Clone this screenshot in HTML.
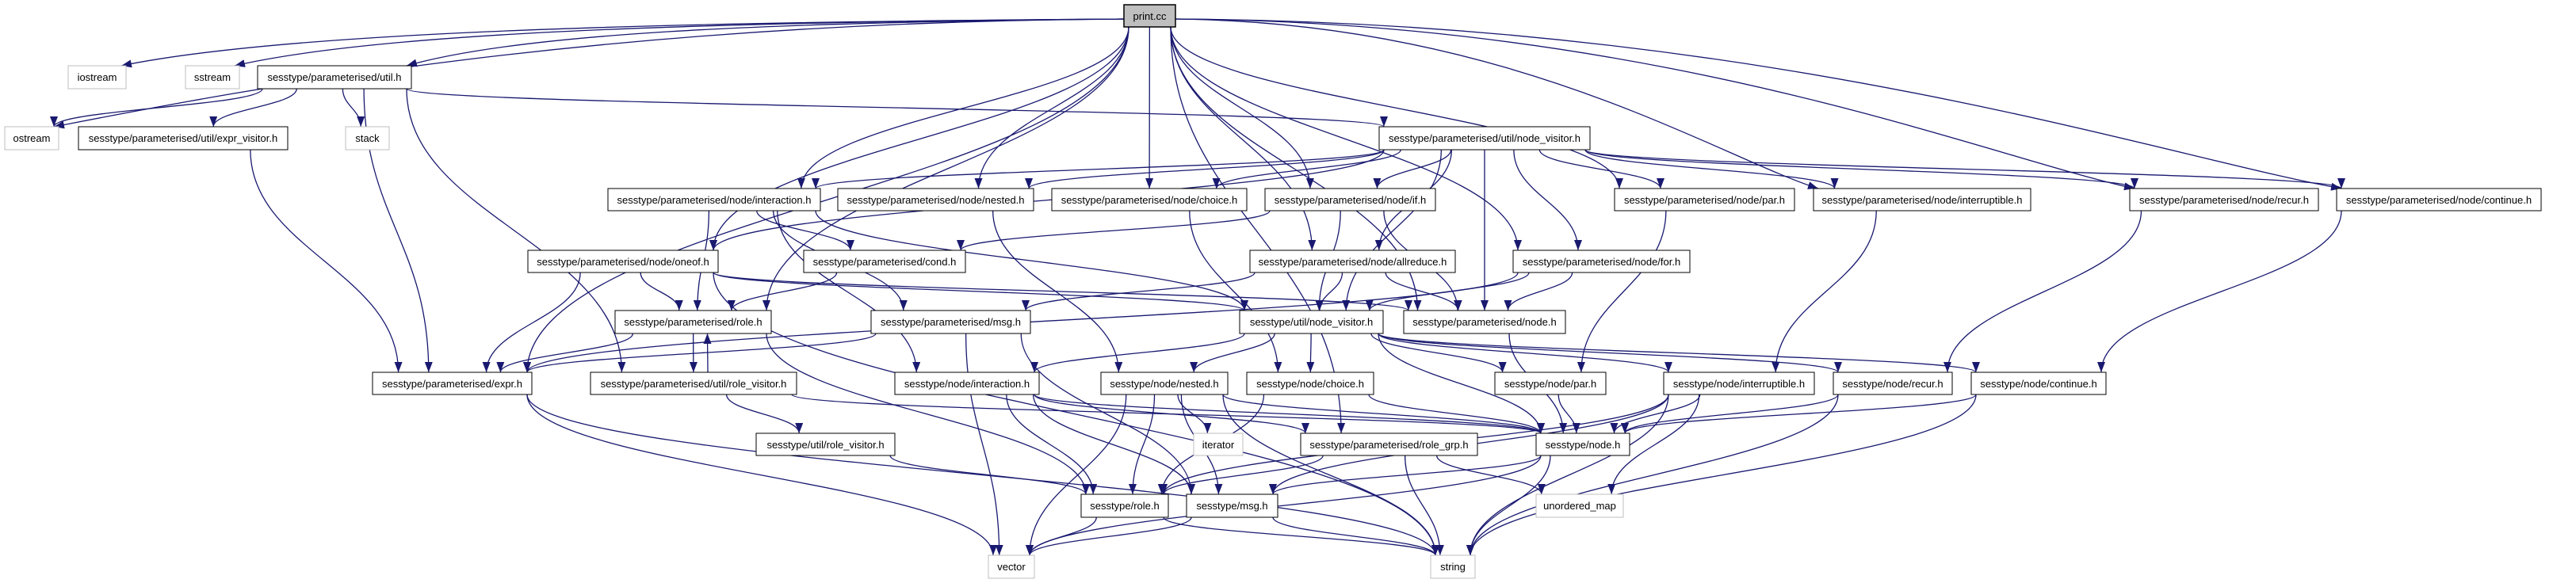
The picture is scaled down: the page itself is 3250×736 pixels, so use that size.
<!DOCTYPE html>
<html><head><meta charset="utf-8">
<style>
html,body{margin:0;padding:0;background:#fff;width:3250px;height:736px;overflow:hidden}
svg{display:block}
text{font-family:"Liberation Sans",Arial,sans-serif;font-size:13px;fill:#000}
</style></head><body>
<svg id="g" width="3250" height="736" viewBox="0 0 3250 736" xmlns="http://www.w3.org/2000/svg">
<defs><marker id="a" markerUnits="userSpaceOnUse" markerWidth="14" markerHeight="10" refX="13" refY="5" orient="auto"><path d="M0,0 L13,5 L0,10 z" fill="#191970"/></marker></defs>
<g id="edges" fill="none" stroke="#191970" stroke-width="1.3"></g>
<g id="nodes">
<rect x="1418" y="6" width="65" height="28" fill="#bfbfbf" stroke="#000" stroke-width="1.5"/><text x="1450.5" y="25" text-anchor="middle">print.cc</text>
<rect x="86" y="83" width="73" height="29" fill="#fff" stroke="#bfbfbf"/><text x="122.5" y="102" text-anchor="middle">iostream</text>
<rect x="234" y="83" width="68" height="29" fill="#fff" stroke="#bfbfbf"/><text x="268" y="102" text-anchor="middle">sstream</text>
<rect x="325" y="83" width="194" height="29" fill="#fff" stroke="#000"/><text x="422" y="102" text-anchor="middle">sesstype/parameterised/util.h</text>
<rect x="6" y="160" width="68" height="29" fill="#fff" stroke="#bfbfbf"/><text x="40" y="179" text-anchor="middle">ostream</text>
<rect x="99" y="160" width="264" height="29" fill="#fff" stroke="#000"/><text x="231" y="179" text-anchor="middle">sesstype/parameterised/util/expr_visitor.h</text>
<rect x="436" y="160" width="55" height="29" fill="#fff" stroke="#bfbfbf"/><text x="463.5" y="179" text-anchor="middle">stack</text>
<rect x="1740" y="160" width="266" height="29" fill="#fff" stroke="#000"/><text x="1873" y="179" text-anchor="middle">sesstype/parameterised/util/node_visitor.h</text>
<rect x="767" y="238" width="268" height="28" fill="#fff" stroke="#000"/><text x="901" y="257" text-anchor="middle">sesstype/parameterised/node/interaction.h</text>
<rect x="1057" y="238" width="247" height="28" fill="#fff" stroke="#000"/><text x="1180.5" y="257" text-anchor="middle">sesstype/parameterised/node/nested.h</text>
<rect x="1327" y="238" width="246" height="28" fill="#fff" stroke="#000"/><text x="1450" y="257" text-anchor="middle">sesstype/parameterised/node/choice.h</text>
<rect x="1596" y="238" width="215" height="28" fill="#fff" stroke="#000"/><text x="1703.5" y="257" text-anchor="middle">sesstype/parameterised/node/if.h</text>
<rect x="2037" y="238" width="227" height="28" fill="#fff" stroke="#000"/><text x="2150.5" y="257" text-anchor="middle">sesstype/parameterised/node/par.h</text>
<rect x="2288" y="238" width="274" height="28" fill="#fff" stroke="#000"/><text x="2425" y="257" text-anchor="middle">sesstype/parameterised/node/interruptible.h</text>
<rect x="2687" y="238" width="238" height="28" fill="#fff" stroke="#000"/><text x="2806" y="257" text-anchor="middle">sesstype/parameterised/node/recur.h</text>
<rect x="2948" y="238" width="258" height="28" fill="#fff" stroke="#000"/><text x="3077" y="257" text-anchor="middle">sesstype/parameterised/node/continue.h</text>
<rect x="666" y="316" width="240" height="28" fill="#fff" stroke="#000"/><text x="786" y="335" text-anchor="middle">sesstype/parameterised/node/oneof.h</text>
<rect x="1014" y="316" width="204" height="28" fill="#fff" stroke="#000"/><text x="1116" y="335" text-anchor="middle">sesstype/parameterised/cond.h</text>
<rect x="1577" y="316" width="259" height="28" fill="#fff" stroke="#000"/><text x="1706.5" y="335" text-anchor="middle">sesstype/parameterised/node/allreduce.h</text>
<rect x="1909" y="316" width="223" height="28" fill="#fff" stroke="#000"/><text x="2020.5" y="335" text-anchor="middle">sesstype/parameterised/node/for.h</text>
<rect x="776" y="392" width="197" height="29" fill="#fff" stroke="#000"/><text x="874.5" y="411" text-anchor="middle">sesstype/parameterised/role.h</text>
<rect x="1099" y="392" width="201" height="29" fill="#fff" stroke="#000"/><text x="1199.5" y="411" text-anchor="middle">sesstype/parameterised/msg.h</text>
<rect x="1564" y="392" width="181" height="29" fill="#fff" stroke="#000"/><text x="1654.5" y="411" text-anchor="middle">sesstype/util/node_visitor.h</text>
<rect x="1771" y="392" width="204" height="29" fill="#fff" stroke="#000"/><text x="1873" y="411" text-anchor="middle">sesstype/parameterised/node.h</text>
<rect x="470" y="470" width="201" height="28" fill="#fff" stroke="#000"/><text x="570.5" y="489" text-anchor="middle">sesstype/parameterised/expr.h</text>
<rect x="745" y="470" width="260" height="28" fill="#fff" stroke="#000"/><text x="875" y="489" text-anchor="middle">sesstype/parameterised/util/role_visitor.h</text>
<rect x="1129" y="470" width="182" height="28" fill="#fff" stroke="#000"/><text x="1220" y="489" text-anchor="middle">sesstype/node/interaction.h</text>
<rect x="1389" y="470" width="160" height="28" fill="#fff" stroke="#000"/><text x="1469" y="489" text-anchor="middle">sesstype/node/nested.h</text>
<rect x="1573" y="470" width="160" height="28" fill="#fff" stroke="#000"/><text x="1653" y="489" text-anchor="middle">sesstype/node/choice.h</text>
<rect x="1886" y="470" width="140" height="28" fill="#fff" stroke="#000"/><text x="1956" y="489" text-anchor="middle">sesstype/node/par.h</text>
<rect x="2099" y="470" width="190" height="28" fill="#fff" stroke="#000"/><text x="2194" y="489" text-anchor="middle">sesstype/node/interruptible.h</text>
<rect x="2313" y="470" width="150" height="28" fill="#fff" stroke="#000"/><text x="2388" y="489" text-anchor="middle">sesstype/node/recur.h</text>
<rect x="2487" y="470" width="170" height="28" fill="#fff" stroke="#000"/><text x="2572" y="489" text-anchor="middle">sesstype/node/continue.h</text>
<rect x="954" y="547" width="175" height="28" fill="#fff" stroke="#000"/><text x="1041.5" y="566" text-anchor="middle">sesstype/util/role_visitor.h</text>
<rect x="1506" y="547" width="62" height="28" fill="#fff" stroke="#bfbfbf"/><text x="1537" y="566" text-anchor="middle">iterator</text>
<rect x="1641" y="547" width="223" height="28" fill="#fff" stroke="#000"/><text x="1752.5" y="566" text-anchor="middle">sesstype/parameterised/role_grp.h</text>
<rect x="1938" y="547" width="118" height="28" fill="#fff" stroke="#000"/><text x="1997" y="566" text-anchor="middle">sesstype/node.h</text>
<rect x="1364" y="624" width="110" height="29" fill="#fff" stroke="#000"/><text x="1419" y="643" text-anchor="middle">sesstype/role.h</text>
<rect x="1497" y="624" width="115" height="29" fill="#fff" stroke="#000"/><text x="1554.5" y="643" text-anchor="middle">sesstype/msg.h</text>
<rect x="1938" y="624" width="110" height="29" fill="#fff" stroke="#bfbfbf"/><text x="1993" y="643" text-anchor="middle">unordered_map</text>
<rect x="1247" y="701" width="58" height="29" fill="#fff" stroke="#bfbfbf"/><text x="1276" y="720" text-anchor="middle">vector</text>
<rect x="1805" y="701" width="56" height="29" fill="#fff" stroke="#bfbfbf"/><text x="1833" y="720" text-anchor="middle">string</text>
</g>
</svg>
<script>
var N={
pc:[1418,1483,6,34],io:[86,159,83,112],ss:[234,302,83,112],ut:[325,519,83,112],
os:[6,74,160,189],ev:[99,363,160,189],st:[436,491,160,189],pnv:[1740,2006,160,189],
pin:[767,1035,238,266],pne:[1057,1304,238,266],pch:[1327,1573,238,266],pif:[1596,1811,238,266],
ppa:[2037,2264,238,266],pir:[2288,2562,238,266],pre:[2687,2925,238,266],pco:[2948,3206,238,266],
on:[666,906,316,344],cd:[1014,1218,316,344],al:[1577,1836,316,344],fo:[1909,2132,316,344],
pro:[776,973,392,421],pms:[1099,1300,392,421],unv:[1564,1745,392,421],pno:[1771,1975,392,421],
ex:[470,671,470,498],prv:[745,1005,470,498],nin:[1129,1311,470,498],nne:[1389,1549,470,498],
nch:[1573,1733,470,498],npa:[1886,2026,470,498],nir:[2099,2289,470,498],nre:[2313,2463,470,498],
nco:[2487,2657,470,498],urv:[954,1129,547,575],it:[1506,1568,547,575],rg:[1641,1864,547,575],
no:[1938,2056,547,575],ro:[1364,1474,624,653],ms:[1497,1612,624,653],um:[1938,2048,624,653],
ve:[1247,1305,701,730],sr:[1805,1861,701,730]};
var E=[
['pc','io'],['pc','os'],['pc','ss'],['pc','ut'],['pc','ex'],['pc','pro'],['pc','on'],['pc','pin'],
['pc','pne'],['pc','pch'],['pc','pif'],['pc','ppa'],['pc','pir'],['pc','pre'],['pc','pco'],['pc','fo'],
['pc','al'],['pc','pno'],['pc','rg'],
['ut','os'],['ut','ev'],['ut','st'],['ut','ex'],['ut','prv'],['ut','pnv'],
['ev','ex'],
['pnv','pin'],['pnv','pne'],['pnv','pch'],['pnv','pif'],['pnv','ppa'],['pnv','pir'],['pnv','pre'],
['pnv','pco'],['pnv','on'],['pnv','al'],['pnv','fo'],['pnv','pno'],['pnv','unv'],
['pin','cd'],['pin','pms'],['pin','pro'],['pin','unv'],['pin','nin'],
['on','pro'],['on','ex'],['on','pno'],['on','unv'],['on','sr'],
['cd','pro'],['pne','nne'],['pch','nch'],['pif','cd'],['pif','pno'],['pif','unv'],
['al','pms'],['al','unv'],['al','pno'],['fo','ex'],['fo','unv'],['fo','pno'],
['ppa','npa'],['pir','nir'],['pre','nre'],['pco','nco'],
['pro','ex'],['pro','prv'],['pro','ro'],['prv','pro'],['prv','urv'],['prv','no'],
['urv','ro'],['pms','ex'],['pms','ve'],['pms','ms'],['ex','ve'],['ex','sr'],
['unv','nin'],['unv','nne'],['unv','nch'],['unv','npa'],['unv','nir'],['unv','nre'],['unv','nco'],['unv','no'],
['pno','no'],
['nin','ro'],['nin','ms'],['nin','no'],['nin','rg'],
['nne','ro'],['nne','ms'],['nne','ve'],['nne','it'],['nne','sr'],['nne','no'],
['nch','ro'],['nch','no'],['npa','no'],
['nir','no'],['nir','ro'],['nir','ms'],['nir','um'],['nir','sr'],
['nre','no'],['nre','sr'],['nco','no'],['nco','sr'],
['rg','ro'],['rg','sr'],['rg','um'],
['no','ms'],['no','ve'],['no','sr'],['ro','ve'],['ro','sr'],['ms','ve'],['ms','sr']];
var g=document.getElementById('edges'),s='';
function cl(v,a,b){return Math.max(a+6,Math.min(b-6,v));}
E.forEach(function(e){
 var A=N[e[0]],B=N[e[1]];
 var ac=(A[0]+A[1])/2,bc=(B[0]+B[1])/2,sx,sy,tx,ty,d;
 if(B[2]>A[2]){
  tx=cl(bc+(ac-bc)*0.2,B[0],B[1]);ty=B[2];
  var dx=tx-ac;
  if(e[0]=='pc' && Math.abs(dx)>4*(B[2]-A[3])){
   sx=dx<0?A[0]:A[1];sy=(A[2]+A[3])/2+4;
   d='M'+sx+','+sy+' C'+(sx+dx*0.5)+','+(sy+4)+' '+(tx-dx*0.15)+','+(ty-40)+' '+tx+','+ty;
  } else {
   sx=cl(ac+(bc-ac)*0.25,A[0],A[1]);sy=A[3];
   var dy=ty-sy;
   d='M'+sx+','+sy+' C'+sx+','+(sy+dy*0.45)+' '+tx+','+(ty-dy*0.45)+' '+tx+','+ty;
  }
 } else if(B[2]<A[2]){
  sx=cl(ac+18,A[0],A[1]);sy=A[2];tx=cl(bc+18,B[0],B[1]);ty=B[3];
  d='M'+sx+','+sy+' C'+sx+','+(sy-20)+' '+tx+','+(ty+20)+' '+tx+','+ty;
 } else return;
 s+='<path d="'+d+'" marker-end="url(#a)"/>';
});
g.innerHTML=s;
</script>
</body></html>
